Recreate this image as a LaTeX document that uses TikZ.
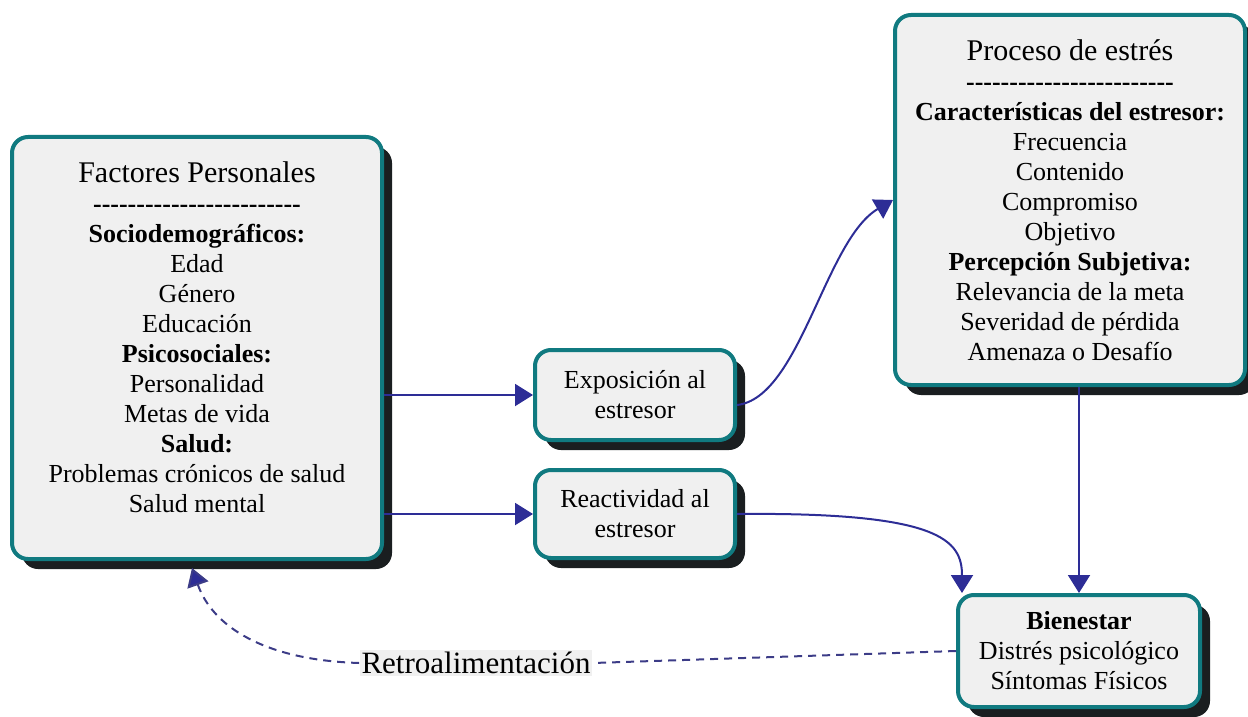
\documentclass[tikz,border=0pt]{standalone}
\usepackage{fontspec}
\setmainfont{Liberation Serif}
\usepackage{tikz}
\usetikzlibrary{arrows.meta,shadows}
\definecolor{tealborde}{RGB}{16,122,128}
\definecolor{grisfondo}{RGB}{240,240,240}
\definecolor{azulflecha}{RGB}{45,45,150}
\definecolor{azulretro}{RGB}{60,60,135}
\definecolor{sombra}{RGB}{26,30,32}
\newcommand{\rayas}{\textbf{\foreach \i in {1,...,24}{\hbox{-}}}}

\begin{document}
\begin{tikzpicture}[x=0.5pt, y=-0.5pt, >={Triangle[length=9pt,width=11pt]},
    caja/.style={draw=tealborde, line width=2pt, rectangle, rounded corners=8pt, fill=grisfondo, align=center,
      font=\fontsize{13}{15}\selectfont, inner sep=2pt,
      drop shadow={shadow xshift=5pt, shadow yshift=-5pt, fill=sombra, opacity=1}},
    flecha/.style={->, draw=azulflecha, line width=1pt},
    retro/.style={draw=azulretro, line width=1pt, dash pattern=on 4pt off 3pt}]
    \useasboundingbox (0,0) rectangle (1248,717);

    \node[caja, minimum width=185pt, minimum height=211pt] (fac) at (197,348)
      {{\fontsize{15}{18}\selectfont Factores Personales}\\ \rayas\\
       \textbf{Sociodemográficos:}\\ Edad\\ Género\\ Educación\\
       \textbf{Psicosociales:}\\ Personalidad\\ Metas de vida\\
       \textbf{Salud:}\\ Problemas crónicos de salud\\ Salud mental\\[-4pt]\mbox{}};
    \node[caja, minimum width=100pt, minimum height=45pt] (expo) at (635,395) {Exposición al\\ estresor};
    \node[caja, minimum width=100pt, minimum height=44pt] (reac) at (635,514) {Reactividad al\\ estresor};
    \node[caja, minimum width=175pt, minimum height=185pt] (proc) at (1070,200)
      {{\fontsize{15}{18}\selectfont Proceso de estrés}\\ \rayas\\
       \textbf{Características del estresor:}\\ Frecuencia\\ Contenido\\ Compromiso\\ Objetivo\\
       \textbf{Percepción Subjetiva:}\\ Relevancia de la meta\\ Severidad de pérdida\\ Amenaza o Desafío};
    \node[caja, minimum width=121pt, minimum height=56pt] (bien) at (1079,651)
      {\textbf{Bienestar}\\ Distrés psicológico\\ Síntomas Físicos};

    \node[fill=grisfondo, inner sep=1pt, font=\fontsize{15.5}{18}\selectfont] (retrolab) at (476,663) {Retroalimentación};
    \coordinate (retrofin) at (192,568);

    \draw[flecha] (fac.east |- expo.west) -- (expo.west);
    \draw[flecha] (fac.east |- reac.west) -- (reac.west);
    \draw[flecha] ([yshift=-5pt]expo.east) .. controls (800,398) and (825,240) .. (proc.west);
    \draw[flecha] (reac.east) .. controls (940,512) and (962,540) .. ([xshift=3pt]bien.north west);
    \draw[flecha] (bien.north |- proc.south) -- (bien.north);
    \draw[retro] (bien.west) -- (retrolab.east);
    \draw[retro, -{Triangle[length=9pt,width=11pt,fill=azulflecha]}] (retrolab.west) .. controls (262,660) and (212,625) .. (retrofin);
\end{tikzpicture}
\end{document}
